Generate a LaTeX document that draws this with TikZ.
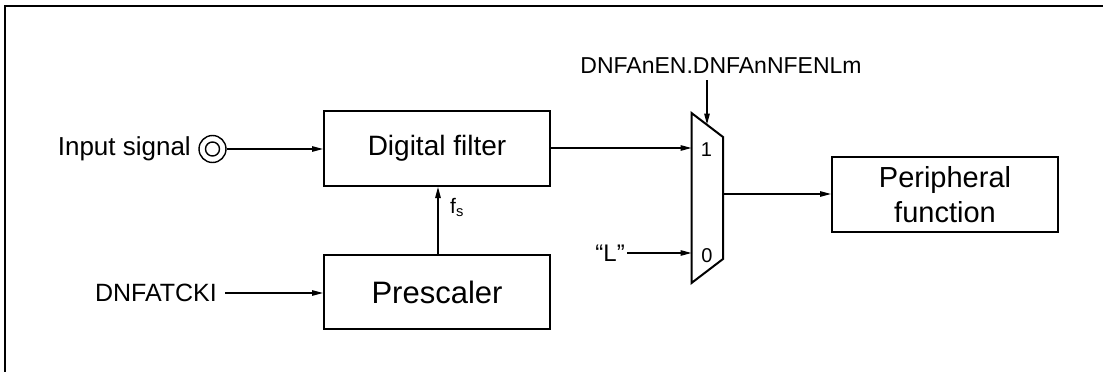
\documentclass[tikz,border=0pt]{standalone}
\usepackage{fontspec}
\setmainfont{Liberation Sans}
\usetikzlibrary{arrows.meta}
\begin{document}
\begin{tikzpicture}[x=1pt,y=-1pt,
  blk/.style={draw,line width=2pt,inner sep=0pt,anchor=center},
  conn/.style={line width=1.3pt},
  arr/.style={conn,-{Triangle[length=11pt,width=5.5pt]}},
  lbl/.style={inner sep=0pt,font=\fontsize{25}{28}\selectfont}]
\useasboundingbox (0,0) rectangle (1103,372);
% frame
\draw[line width=2pt] (5,372) -- (5,6) -- (1103,6);
% blocks
\node[blk,minimum width=226pt,minimum height=75pt,font=\fontsize{28}{32}\selectfont] (df) at (437,148.5) {Digital filter};
\node[blk,minimum width=226pt,minimum height=74pt,font=\fontsize{31}{34}\selectfont] (ps) at (437,292) {Prescaler};
\node[blk,minimum width=226pt,minimum height=75.5pt,font=\fontsize{29}{35}\selectfont,align=center] (pf) at (945,194.25) {Peripheral\\function};
% mux
\draw[line width=2pt] (691.5,113) -- (723,137) -- (723,259) -- (691.5,283) -- cycle;
\coordinate (mux1) at (691.5,148);
\coordinate (mux0) at (691.5,253);
\coordinate (muxout) at (723,194);
\coordinate (muxsel) at (707,124.5);
\node[lbl,font=\fontsize{20}{24}\selectfont] (one) at (706.5,150) {1};
\node[lbl,font=\fontsize{20}{24}\selectfont] (zero) at (707,256) {0};
% input
\node[lbl,anchor=east,font=\fontsize{26}{30}\selectfont] (intxt) at (191,149) {Input signal};
\node[draw,circle,line width=1.4pt,minimum size=27pt,inner sep=0pt] (in) at (212.5,149) {};
\node[draw,circle,line width=1.4pt,minimum size=14pt,inner sep=0pt] (inin) at (212.5,149) {};
\draw[arr] (in.east) -- (df.west |- in.east);
% DNFATCKI
\node[lbl,anchor=east] (ck) at (217,293) {DNFATCKI};
\coordinate (ckend) at (225,293);
\draw[arr] (ckend) -- (ps.west |- ckend);
% fs
\coordinate (fsx) at (438,0);
\draw[arr] (ps.north -| fsx) -- (df.south -| fsx);
\node[lbl,font=\fontsize{21}{26}\selectfont,anchor=base west] (fs) at (450,213) {f\textsubscript{s}};
% df to mux
\draw[arr] (df.east |- mux1) -- (mux1);
% L
\node[lbl,anchor=east,font=\fontsize{24}{28}\selectfont] (L) at (625,253) {“L”};
\coordinate (Lend) at (627,253);
\draw[arr] (Lend) -- (mux0);
% select
\node[lbl,font=\fontsize{23}{26}\selectfont,anchor=base] (sel) at (721,73) {DNFAnEN.DNFAnNFENLm};
\coordinate (selstart) at (707,80);
\draw[arr] (selstart) -- (muxsel);
% out
\draw[arr] (muxout) -- (pf.west |- muxout);
\end{tikzpicture}
\end{document}
